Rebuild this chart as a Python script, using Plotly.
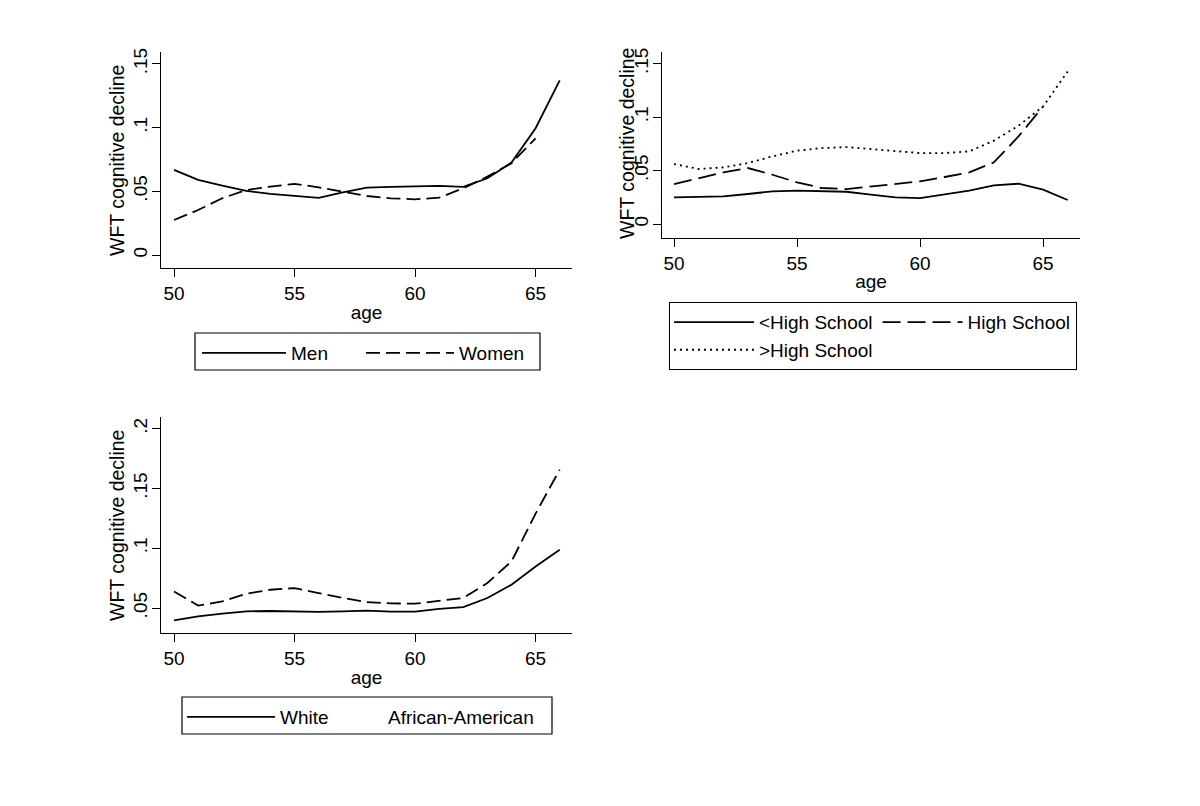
import plotly.graph_objects as go

# ---------------- data ----------------
age = [50, 51, 52, 53, 54, 55, 56, 57, 58, 59, 60, 61, 62, 63, 64, 65, 66]

men = [0.0668, 0.0589, 0.0545, 0.0503, 0.0480, 0.0466, 0.0448, 0.0492, 0.0529,
       0.0534, 0.0537, 0.0542, 0.0534, 0.0602, 0.0725, 0.0995, 0.1370]
women = [0.0275, 0.0353, 0.0445, 0.0510, 0.0537, 0.0558, 0.0531, 0.0495, 0.0463,
         0.0445, 0.0437, 0.0450, 0.0524, 0.0615, 0.0720, 0.0916]

lt_hs = [0.0249, 0.0253, 0.0259, 0.0281, 0.0306, 0.0312, 0.0309, 0.0302, 0.0274,
         0.0249, 0.0243, 0.0281, 0.0312, 0.0362, 0.0377, 0.0321, 0.0225]
hs = [0.0374, 0.0430, 0.0483, 0.0524, 0.0461, 0.0390, 0.0337, 0.0327, 0.0352,
      0.0374, 0.0399, 0.0440, 0.0483, 0.0577, 0.0820, 0.1100]
gt_hs = [0.0561, 0.0515, 0.0530, 0.0570, 0.0633, 0.0686, 0.0711, 0.0720, 0.0702,
         0.0680, 0.0664, 0.0664, 0.0680, 0.0780, 0.0920, 0.1100, 0.1428]

white = [0.0397, 0.0430, 0.0453, 0.0472, 0.0475, 0.0472, 0.0467, 0.0472, 0.0478,
         0.0469, 0.0469, 0.0492, 0.0508, 0.0584, 0.0695, 0.0848, 0.0988]
afr_am = [0.0639, 0.0520, 0.0556, 0.0620, 0.0653, 0.0667, 0.0625, 0.0584, 0.0550,
          0.0539, 0.0536, 0.0561, 0.0584, 0.0709, 0.0890, 0.1290, 0.1657]

x_ticks = [50, 55, 60, 65]
y1_ticks = [0, 0.05, 0.1, 0.15]
y1_text = ["0", ".05", ".1", ".15"]
y3_ticks = [0.05, 0.1, 0.15, 0.2]
y3_text = [".05", ".1", ".15", ".2"]

x_title = "age"
y_title = "WFT cognitive decline"

# ---------------- styles ----------------
FONT = "Liberation Sans, Arial, Helvetica, sans-serif"
FS = 19
LW = 1.8
LONGDASH = "14px,6px"

W, H = 1200, 806
OFF = 8  # default page body margin of the html page


def px_x(a, b):
    return [(a - OFF) / W, (b - OFF) / W]


def px_y(top, bottom):
    return [1 - (bottom - OFF) / H, 1 - (top - OFF) / H]


def lx(x):
    return (x - OFF) / W


def ly(y):
    return 1 - (y - OFF) / H


fig = go.Figure()

# Panel 1
fig.add_trace(go.Scatter(x=age, y=men, name="Men", mode="lines",
                         line=dict(color="black", width=LW),
                         xaxis="x", yaxis="y", legend="legend"))
fig.add_trace(go.Scatter(x=age[:len(women)], y=women, name="Women", mode="lines",
                         line=dict(color="black", width=LW, dash=LONGDASH),
                         xaxis="x", yaxis="y", legend="legend5"))

# Panel 2
fig.add_trace(go.Scatter(x=age, y=lt_hs, name="<High School", mode="lines",
                         line=dict(color="black", width=LW), legendgroup="a",
                         xaxis="x2", yaxis="y2", legend="legend2"))
fig.add_trace(go.Scatter(x=age[:len(hs)], y=hs, name="High School", mode="lines",
                         line=dict(color="black", width=LW, dash="18px,7px"), legendgroup="b",
                         xaxis="x2", yaxis="y2", legend="legend2"))
fig.add_trace(go.Scatter(x=age, y=gt_hs, name=">High School", mode="lines",
                         line=dict(color="black", width=LW, dash="2px,4px"), legendgroup="a",
                         xaxis="x2", yaxis="y2", legend="legend2"))

# Panel 3 (the reference legend shows no key sample for African-American)
fig.add_trace(go.Scatter(x=age, y=white, name="White", mode="lines",
                         line=dict(color="black", width=LW),
                         xaxis="x3", yaxis="y3", legend="legend3"))
fig.add_trace(go.Scatter(x=age, y=afr_am, name="African-American", mode="lines",
                         line=dict(color="black", width=LW, dash=LONGDASH),
                         showlegend=False, legendgroup="aa",
                         xaxis="x3", yaxis="y3"))
fig.add_trace(go.Scatter(x=[None], y=[None], name="African-American", mode="lines",
                         line=dict(color="rgba(0,0,0,0)", width=0), legendgroup="aa",
                         xaxis="x3", yaxis="y3", legend="legend4", hoverinfo="skip"))

axis_common = dict(showline=True, linecolor="black", linewidth=1.2, ticks="outside",
                   ticklen=8, tickwidth=1.2, tickcolor="black", showgrid=False,
                   zeroline=False, mirror=False, automargin=False,
                   tickfont=dict(family=FONT, size=FS, color="black"))


def xax(domain, anchor, rng, standoff):
    return dict(axis_common, domain=domain, anchor=anchor, range=rng,
                tickvals=x_ticks, ticktext=[str(v) for v in x_ticks],
                title=dict(text=x_title, font=dict(family=FONT, size=FS, color="black"),
                           standoff=standoff))


def yax(domain, anchor, rng, vals, text):
    return dict(axis_common, domain=domain, anchor=anchor, range=rng,
                tickvals=vals, ticktext=text, tickangle=-90, ticklabelstandoff=-3)


legend_common = dict(xanchor="left", yanchor="top", orientation="h",
                     bordercolor="black", borderwidth=1.2, bgcolor="white",
                     font=dict(family=FONT, size=FS, color="black"))
plain_legend = dict(legend_common, borderwidth=0, bgcolor="rgba(0,0,0,0)")

ytitle_common = dict(text=y_title, textangle=-90, showarrow=False, xref="paper",
                     yref="paper", xanchor="center", yanchor="middle",
                     font=dict(family=FONT, size=19.5, color="black"))


def frame(x0, x1, top, bottom):
    return dict(type="rect", xref="paper", yref="paper",
                x0=lx(x0), x1=lx(x1), y0=ly(bottom), y1=ly(top),
                line=dict(color="black", width=1.2), layer="below")


fig.update_layout(
    width=W, height=H,
    margin=dict(l=0, r=0, t=0, b=0),
    paper_bgcolor="white", plot_bgcolor="white",
    font=dict(family=FONT, size=FS, color="black"),
    xaxis=xax(px_x(161, 572), "y", [49.46, 66.51], 2),
    yaxis=yax(px_y(52, 268), "x", [-0.0102, 0.1593], y1_ticks, y1_text),
    xaxis2=xax(px_x(662, 1080), "y2", [49.51, 66.5], 1),
    yaxis2=yax(px_y(52, 238), "x2", [-0.0131, 0.161], y1_ticks, y1_text),
    xaxis3=xax(px_x(161, 572), "y3", [49.46, 66.51], 2),
    yaxis3=yax(px_y(417, 633), "x3", [0.0291, 0.2098], y3_ticks, y3_text),
    showlegend=True,
    legend=dict(plain_legend, x=lx(197), y=ly(334), itemwidth=84),
    legend5=dict(plain_legend, x=lx(361), y=ly(334), itemwidth=88),
    legend2=dict(legend_common, x=lx(669), y=ly(302), traceorder="grouped",
                 tracegroupgap=0, itemwidth=80),
    legend3=dict(plain_legend, x=lx(182), y=ly(698), itemwidth=88),
    legend4=dict(plain_legend, x=lx(348), y=ly(698), itemwidth=30),
    shapes=[frame(195, 540, 333, 370), frame(182, 552, 697, 734)],
    annotations=[
        dict(ytitle_common, x=lx(117), y=ly(161)),
        dict(ytitle_common, x=lx(627), y=ly(144)),
        dict(ytitle_common, x=lx(117), y=ly(526)),
    ],
)

fig.write_html("out.html")
